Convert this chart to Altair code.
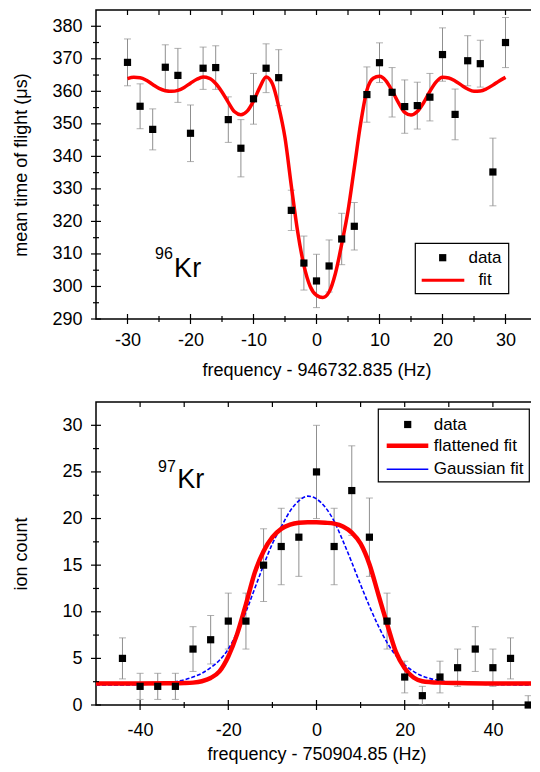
import altair as alt
import pandas as pd

FONT = "Liberation Sans"

# ===================== 96Kr : time-of-flight resonance =====================
kr96_freq = [-30, -28, -26, -24, -22, -20, -18, -16, -14, -12, -10, -8, -6, -4, -2,
             0, 2, 4, 6, 8, 10, 12, 14, 16, 18, 20, 22, 24, 26, 28, 30]
kr96_tof = [368.9, 355.4, 348.3, 367.4, 364.9, 347.1, 367.1, 367.3, 351.3, 342.5,
            357.7, 367.1, 364.2, 323.4, 307.2, 301.7, 306.3, 314.6, 318.5, 359.0,
            368.8, 359.7, 355.3, 355.6, 358.2, 371.3, 352.9, 369.4, 368.5, 335.2, 375.0]
kr96_err = [7.2, 6.9, 6.3, 6.9, 8.3, 8.7, 6.5, 6.7, 7.0, 8.8, 7.8, 7.5, 8.6, 6.2, 8.3,
            8.2, 8.0, 7.9, 7.3, 8.5, 6.1, 7.6, 8.2, 7.2, 7.3, 8.2, 7.8, 7.7, 7.2, 10.4, 7.7]

kr96_fit_freq = [-30, -29, -28, -27, -26, -25, -24, -23, -22, -21,
                 -20, -19, -18, -17, -16, -15, -14, -13, -12, -11,
                 -10, -9, -8, -7, -6, -5, -4, -3, -2, -1,
                 0,
                 1, 2, 3, 4, 5, 6, 7, 8, 9, 10,
                 11, 12, 13, 14, 15, 16, 17, 18, 19, 20,
                 21, 22, 23, 24, 25, 26, 27, 28, 29, 30]
kr96_fit_tof = [363.9, 364.3, 364.2, 363.4, 362.1, 360.9, 360.2, 360.0, 360.3, 361.2,
                362.5, 363.7, 364.4, 364.0, 362.4, 359.8, 356.6, 353.7, 352.8, 353.9,
                357.0, 361.2, 364.4, 362.3, 355.3, 345.7, 331.0, 317.0, 306.5, 300.0,
                297.3,
                296.6, 298.3, 304.0, 313.0, 323.2, 336.5, 350.0, 360.3, 364.0, 364.6,
                363.3, 360.2, 356.5, 353.5, 352.7, 353.8, 356.5, 360.0, 362.9, 364.3,
                364.1, 363.2, 361.9, 360.7, 360.0, 360.1, 360.8, 361.9, 363.2, 364.3]

top_x_major = [-30, -20, -10, 0, 10, 20, 30]
top_x_minor = [-25, -15, -5, 5, 15, 25]
top_y_major = [290, 300, 310, 320, 330, 340, 350, 360, 370, 380]
top_y_minor = [295, 305, 315, 325, 335, 345, 355, 365, 375]
top_legend_labels = ["data", "fit"]

# ===================== 97Kr : ion count =====================
kr97_freq = [-44, -40, -36, -32, -28, -24, -20, -16, -12, -8, -4, 0,
             4, 8, 12, 16, 20, 24, 28, 32, 36, 40, 44, 48]
kr97_counts = [5, 2, 2, 2, 6, 7, 9, 9, 15, 17, 18, 25,
               17, 23, 18, 9, 3, 1, 3, 4, 6, 4, 5, 0]
kr97_err = [2.2, 1.4, 1.4, 1.4, 2.4, 2.6, 3.0, 3.0, 3.9, 4.1, 4.2, 5.0,
            4.1, 4.8, 4.2, 3.0, 1.7, 1.0, 1.7, 2.0, 2.4, 2.0, 2.2, 1.0]

kr97_flat_freq = [-50, -40, -34, -30, -28, -26, -24, -22, -20, -18,
                  -16, -14, -12, -10, -8, -6, -4, -2, 0, 2,
                  4, 6, 8, 10, 12, 14, 16, 18, 20, 22,
                  24, 26, 28, 32, 40, 50]
kr97_flat = [2.3, 2.3, 2.32, 2.35, 2.4, 2.55, 2.9, 3.6, 5.2, 7.6,
             10.8, 14.2, 16.5, 18.0, 18.9, 19.35, 19.55, 19.6, 19.6, 19.55,
             19.45, 19.15, 18.5, 17.3, 15.1, 11.9, 8.7, 5.7, 3.95, 2.95,
             2.55, 2.45, 2.4, 2.35, 2.3, 2.3]

kr97_gauss_freq = [-50, -44, -40, -36, -32, -28, -26, -24, -22, -20,
                   -18, -16, -14, -12, -10, -8, -6, -4, -2, 0,
                   2, 4, 6, 8, 10, 12, 14, 16, 18, 20,
                   22, 24, 26, 28, 32, 36, 40, 50]
kr97_gauss = [2.15, 2.15, 2.2, 2.3, 2.5, 3.0, 3.4, 4.0, 4.8, 6.0,
              7.8, 10.0, 12.5, 15.0, 17.3, 19.1, 20.8, 21.9, 22.4, 22.1,
              21.2, 19.7, 17.6, 15.3, 12.9, 10.6, 8.5, 6.7, 5.3, 4.3,
              3.6, 3.1, 2.8, 2.6, 2.35, 2.25, 2.2, 2.15]

bot_x_major = [-40, -20, 0, 20, 40]
bot_x_minor = [-30, -10, 10, 30]
bot_y_major = [0, 5, 10, 15, 20, 25, 30]
bot_y_minor = [2.5, 7.5, 12.5, 17.5, 22.5, 27.5]
bot_legend_labels = ["data", "flattened fit", "Gaussian fit"]

# ===================== layout constants =====================
W = 441
H1 = 309
H2 = 303
ERR_COLOR = "#8f8f8f"


def make_axis(values, title, label_pad, title_pad, orient):
    kw = dict(values=values, ticks=False, tickSize=0, domain=False, grid=False,
              labelFont=FONT, labelFontSize=18, labelColor="black",
              labelPadding=label_pad, labelExpr="'' + datum.value",
              labelFlush=False, labelOverlap=False,
              title=title, titleFont=FONT, titleFontSize=18,
              titleFontWeight="normal", titleColor="black", titlePadding=title_pad)
    if orient == "left":
        kw.update(titleX=-75, titleBaseline="middle", titleAngle=270)
    return alt.Axis(**kw)


def panel(X, Y, err_df, pts_df, lines, xmaj, xmin, ymaj, ymin, h, extra, clip):
    layers = []
    # error bars
    layers.append(alt.Chart(err_df).mark_rule(color=ERR_COLOR, strokeWidth=1, clip=clip)
                  .encode(x=X(), y=Y("lo"), y2=alt.Y2("hi")))
    caps = pd.concat([err_df[["f", "lo"]].rename(columns={"lo": "v"}),
                      err_df[["f", "hi"]].rename(columns={"hi": "v"})])
    layers.append(alt.Chart(caps).mark_tick(color=ERR_COLOR, orient="horizontal",
                                            size=7, thickness=1, clip=clip)
                  .encode(x=X(), y=Y()))
    layers += lines
    layers.append(alt.Chart(pts_df).mark_point(shape="square", filled=True, size=52,
                                               color="black", opacity=1)
                  .encode(x=X(), y=Y()))

    def xr(vals, y1, y2):
        return alt.Chart(pd.DataFrame({"f": vals})).mark_rule(color="black", strokeWidth=1.2).encode(
            x=X(), y=alt.value(y1), y2=alt.value(y2))

    def yr(vals, x1, x2):
        return alt.Chart(pd.DataFrame({"v": vals})).mark_rule(color="black", strokeWidth=1.2).encode(
            y=Y(), x=alt.value(x1), x2=alt.value(x2))

    layers += [xr(xmaj, h - 5, h + 5), xr(xmin, h - 3, h + 3), xr(xmaj + xmin, 0, 5),
               yr(ymaj, -5, 5), yr(ymin, -3, 3), yr(ymaj + ymin, W - 5, W)]
    layers += extra(X, Y)
    return alt.layer(*layers).properties(width=W, height=h)


one = pd.DataFrame({"k": [0]})

# ---------------- top panel ----------------
top_xs = alt.Scale(domain=[-35, 35], nice=False, zero=False)
top_ys = alt.Scale(domain=[290, 385], nice=False, zero=False)
top_xa = make_axis(top_x_major, "frequency - 946732.835 (Hz)", 12, 12, "bottom")
top_ya = make_axis(top_y_major, "mean time of flight (\u03bcs)", 14, 0, "left")
TX = lambda fld="f": alt.X(f"{fld}:Q", scale=top_xs, axis=top_xa)
TY = lambda fld="v": alt.Y(f"{fld}:Q", scale=top_ys, axis=top_ya)

top_pts = pd.DataFrame({"f": kr96_freq, "v": kr96_tof})
top_err = pd.DataFrame({"f": kr96_freq,
                        "lo": [v - e for v, e in zip(kr96_tof, kr96_err)],
                        "hi": [v + e for v, e in zip(kr96_tof, kr96_err)]})
top_fit = pd.DataFrame({"f": kr96_fit_freq, "v": kr96_fit_tof})

top_line_layers = [alt.Chart(top_fit).mark_line(color="#ff0000", strokeWidth=3.5,
                                                interpolate="monotone").encode(x=TX(), y=TY())]


def top_extra(X, Y):
    ann = []
    ann.append(alt.Chart(pd.DataFrame({"f": [-22.8], "v": [308.4], "t": ["96"]}))
               .mark_text(font=FONT, fontSize=16, align="right", baseline="alphabetic", color="black")
               .encode(x=X(), y=Y(), text="t:N"))
    ann.append(alt.Chart(pd.DataFrame({"f": [-22.6], "v": [302.9], "t": ["Kr"]}))
               .mark_text(font=FONT, fontSize=27, align="left", baseline="alphabetic", color="black")
               .encode(x=X(), y=Y(), text="t:N"))
    # legend
    ann.append(alt.Chart(one).mark_rect(fill="white", stroke="black", strokeWidth=1.2)
               .encode(x=alt.value(319.3), x2=alt.value(412.7), y=alt.value(233.3), y2=alt.value(283.7)))
    ann.append(alt.Chart(one).mark_point(shape="square", filled=True, size=52, color="black", opacity=1)
               .encode(x=alt.value(346.7), y=alt.value(247.7)))
    ann.append(alt.Chart(one).mark_rule(color="#ff0000", strokeWidth=3)
               .encode(x=alt.value(325.7), x2=alt.value(368.3), y=alt.value(270.3)))
    for lab, yy in zip(top_legend_labels, [247.7, 270.3]):
        ann.append(alt.Chart(pd.DataFrame({"t": [lab]}))
                   .mark_text(font=FONT, fontSize=17, align="center", baseline="middle", color="black")
                   .encode(x=alt.value(389), y=alt.value(yy), text="t:N"))
    return ann


top = panel(TX, TY, top_err, top_pts, top_line_layers,
            top_x_major, top_x_minor, top_y_major, top_y_minor, H1, top_extra, False)

# ---------------- bottom panel ----------------
bot_xs = alt.Scale(domain=[-50, 50], nice=False, zero=False)
bot_ys = alt.Scale(domain=[0, 32.5], nice=False, zero=False)
bot_xa = make_axis(bot_x_major, "frequency - 750904.85 (Hz)", 16, 6, "bottom")
bot_ya = make_axis(bot_y_major, "ion count", 14, 0, "left")
BX = lambda fld="f": alt.X(f"{fld}:Q", scale=bot_xs, axis=bot_xa)
BY = lambda fld="v": alt.Y(f"{fld}:Q", scale=bot_ys, axis=bot_ya)

bot_pts = pd.DataFrame({"f": kr97_freq, "v": kr97_counts})
bot_err = pd.DataFrame({"f": kr97_freq,
                        "lo": [v - e for v, e in zip(kr97_counts, kr97_err)],
                        "hi": [v + e for v, e in zip(kr97_counts, kr97_err)]})
bot_flat = pd.DataFrame({"f": kr97_flat_freq, "v": kr97_flat})
bot_gauss = pd.DataFrame({"f": kr97_gauss_freq, "v": kr97_gauss})

bot_line_layers = [
    alt.Chart(bot_gauss).mark_line(color="#0000ff", strokeWidth=1.6, strokeDash=[4, 2],
                                   interpolate="monotone").encode(x=BX(), y=BY()),
    alt.Chart(bot_flat).mark_line(color="#ff0000", strokeWidth=4.5,
                                  interpolate="monotone").encode(x=BX(), y=BY()),
]


def bot_extra(X, Y):
    ann = []
    ann.append(alt.Chart(pd.DataFrame({"f": [-31.9], "v": [25.0], "t": ["97"]}))
               .mark_text(font=FONT, fontSize=16, align="right", baseline="alphabetic", color="black")
               .encode(x=X(), y=Y(), text="t:N"))
    ann.append(alt.Chart(pd.DataFrame({"f": [-31.6], "v": [23.3], "t": ["Kr"]}))
               .mark_text(font=FONT, fontSize=27, align="left", baseline="alphabetic", color="black")
               .encode(x=X(), y=Y(), text="t:N"))
    ann.append(alt.Chart(one).mark_rect(fill="white", stroke="black", strokeWidth=1.2)
               .encode(x=alt.value(282.3), x2=alt.value(433.3), y=alt.value(7.2), y2=alt.value(79.8)))
    ann.append(alt.Chart(one).mark_point(shape="square", filled=True, size=52, color="black", opacity=1)
               .encode(x=alt.value(311.7), y=alt.value(22.5)))
    ann.append(alt.Chart(one).mark_rule(color="#ff0000", strokeWidth=4.5)
               .encode(x=alt.value(290.7), x2=alt.value(332.3), y=alt.value(43.8)))
    ann.append(alt.Chart(one).mark_rule(color="#0000ff", strokeWidth=1.6)
               .encode(x=alt.value(290.7), x2=alt.value(332.3), y=alt.value(67.2)))
    for lab, yy in zip(bot_legend_labels, [22.5, 43.8, 67.2]):
        ann.append(alt.Chart(pd.DataFrame({"t": [lab]}))
                   .mark_text(font=FONT, fontSize=17, align="left", baseline="middle", color="black")
                   .encode(x=alt.value(337.7), y=alt.value(yy), text="t:N"))
    return ann


bottom = panel(BX, BY, bot_err, bot_pts, bot_line_layers,
               bot_x_major, bot_x_minor, bot_y_major, bot_y_minor, H2, bot_extra, True)

chart = (alt.vconcat(top, bottom, spacing=20)
         .properties(padding={"left": 3, "top": 0, "right": -16, "bottom": 0}, background="white")
         .configure_view(stroke="black", strokeWidth=1.5))

chart.save("out.html", embed_options={"renderer": "svg", "actions": False})
